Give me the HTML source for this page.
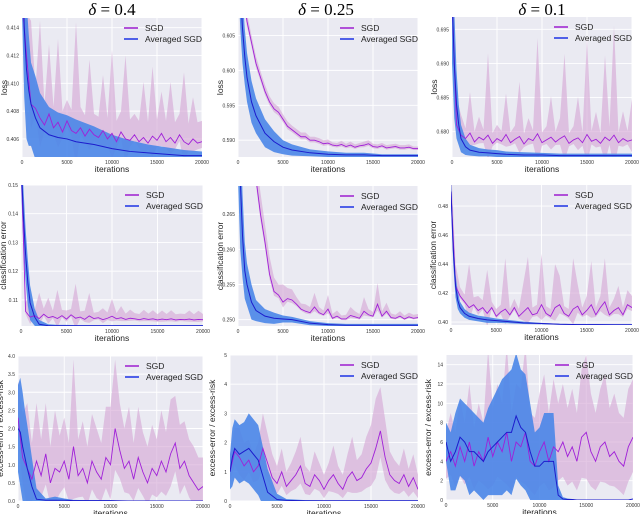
<!DOCTYPE html>
<html><head><meta charset="utf-8">
<style>
html,body{margin:0;padding:0;background:#fff;}
svg{display:block;font-family:"Liberation Sans",sans-serif;}
</style></head>
<body>
<svg id="fig" width="640" height="514" viewBox="0 0 640 514" xmlns="http://www.w3.org/2000/svg"></svg>
<script>
// ---- shared data ----
const iterations = [0,500,1000,1500,2000,2500,3000,3500,4000,4500,5000,5500,6000,6500,7000,7500,8000,8500,9000,9500,10000,10500,11000,11500,12000,12500,13000,13500,14000,14500,15000,15500,16000,16500,17000,17500,18000,18500,19000,19500,20000];
const avgIters = [0,250,500,750,1000,1500,2000,3000,4000,5000,6000,8000,10000,12000,14000,16000,18000,20000];
const xTicks = [0,5000,10000,15000,20000];
const titles = ["δ = 0.4","δ = 0.25","δ = 0.1"];

// Row 1: loss
const p1Sgd = [0.416,0.412,0.4085,0.4082,0.4075,0.407,0.4078,0.4068,0.4072,0.4065,0.4073,0.4066,0.4064,0.4068,0.4062,0.4067,0.4063,0.4061,0.4066,0.406,0.4064,0.4058,0.4065,0.406,0.4059,0.4063,0.4058,0.4061,0.4057,0.4062,0.4059,0.4064,0.4058,0.4061,0.4057,0.4063,0.4058,0.4056,0.406,0.4057,0.4058];
const p1Band = [0.004,0.003,0.006,0.0015,0.007,0.0015,0.005,0.0015,0.006,0.0015,0.0015,0.0015,0.008,0.0015,0.0015,0.005,0.0015,0.0015,0.004,0.0015,0.006,0.0015,0.0015,0.006,0.0015,0.0015,0.0015,0.004,0.0015,0.005,0.0015,0.003,0.0015,0.004,0.0015,0.0015,0.005,0.0015,0.003,0.0015,0.0015];
const p1Avg = [0.42,0.414,0.411,0.4095,0.4085,0.4075,0.4068,0.4063,0.4061,0.406,0.4058,0.4056,0.4053,0.4051,0.405,0.4049,0.4048,0.4048];
const p1AvgBand = [0.005,0.005,0.005,0.004,0.003,0.003,0.0025,0.002,0.0018,0.0017,0.0016,0.0013,0.001,0.0008,0.0006,0.0005,0.0004,0.0003];
const p1Ticks = [0.406,0.408,0.410,0.412,0.414];

const p2Sgd = [0.62,0.612,0.607,0.604,0.601,0.599,0.597,0.5955,0.5945,0.594,0.593,0.592,0.5915,0.591,0.5905,0.5905,0.590,0.590,0.5898,0.5895,0.5896,0.5893,0.5892,0.5894,0.5891,0.5893,0.589,0.5892,0.5893,0.5895,0.5891,0.589,0.5892,0.5889,0.589,0.5891,0.5889,0.5889,0.589,0.5888,0.5888];
const p2Band = [0.0015,0.0015,0.0012,0.001,0.001,0.0009,0.0009,0.0008,0.0008,0.0008,0.0007,0.0007,0.0006,0.0006,0.0006,0.0006,0.0005,0.0005,0.0005,0.0005,0.0005,0.0004,0.0004,0.0005,0.0004,0.0005,0.0004,0.0004,0.0005,0.0005,0.0004,0.0004,0.0004,0.0004,0.0004,0.0004,0.0004,0.0004,0.0004,0.0003,0.0003];
const p2Avg = [0.62,0.612,0.606,0.602,0.599,0.5955,0.5935,0.591,0.5898,0.589,0.5886,0.5882,0.588,0.5879,0.5879,0.5878,0.5878,0.5878];
const p2AvgBand = [0.006,0.006,0.005,0.004,0.0035,0.003,0.0025,0.002,0.0015,0.001,0.0008,0.0005,0.0004,0.0003,0.0003,0.0002,0.0002,0.0002];
const p2Ticks = [0.590,0.595,0.600,0.605];

const p3Sgd = [0.70,0.681,0.6795,0.679,0.6798,0.6785,0.6792,0.6788,0.6795,0.6783,0.679,0.6786,0.6796,0.6784,0.6789,0.6793,0.6782,0.679,0.6787,0.6797,0.6784,0.6788,0.6792,0.6785,0.679,0.6794,0.6783,0.6788,0.6791,0.6784,0.6796,0.6786,0.6789,0.6783,0.6792,0.6787,0.6795,0.6784,0.679,0.6786,0.6788];
const p3Band = [0.01,0.004,0.003,0.0015,0.006,0.0015,0.003,0.0015,0.012,0.0015,0.002,0.0015,0.006,0.0015,0.002,0.008,0.0015,0.003,0.0015,0.014,0.0015,0.002,0.006,0.0015,0.003,0.012,0.0015,0.002,0.006,0.0015,0.014,0.0015,0.004,0.0015,0.012,0.002,0.016,0.0015,0.004,0.0015,0.006];
const p3Avg = [0.70,0.69,0.684,0.681,0.679,0.6778,0.6773,0.677,0.6769,0.6768,0.6767,0.6766,0.6766,0.6765,0.6765,0.6765,0.6765,0.6765];
const p3AvgBand = [0.01,0.008,0.005,0.003,0.002,0.0012,0.0008,0.0006,0.0005,0.0005,0.0004,0.0004,0.0003,0.0003,0.0003,0.0003,0.0003,0.0003];
const p3Ticks = [0.680,0.685,0.690,0.695];

// Row 2: classification error
const p4Sgd = [0.16,0.106,0.104,0.1045,0.1035,0.105,0.1038,0.1042,0.1035,0.1045,0.1033,0.1048,0.1036,0.104,0.1032,0.1044,0.1035,0.1038,0.1031,0.1036,0.1043,0.1034,0.1038,0.1032,0.1036,0.1034,0.1031,0.1035,0.1032,0.1034,0.103,0.1033,0.1031,0.1034,0.103,0.1032,0.1031,0.1033,0.103,0.1032,0.1031];
const p4Band = [0.01,0.003,0.008,0.002,0.009,0.002,0.007,0.002,0.01,0.002,0.003,0.002,0.012,0.002,0.003,0.008,0.002,0.002,0.004,0.002,0.006,0.002,0.004,0.002,0.003,0.002,0.002,0.003,0.002,0.003,0.002,0.003,0.002,0.003,0.002,0.002,0.002,0.003,0.002,0.003,0.002];
const p4Avg = [0.16,0.14,0.126,0.116,0.109,0.104,0.1015,0.101,0.101,0.101,0.101,0.101,0.101,0.101,0.101,0.101,0.101,0.101];
const p4AvgBand = [0.01,0.01,0.009,0.008,0.006,0.003,0.0015,0.0005,0.0003,0.0003,0.0002,0.0002,0.0002,0.0002,0.0002,0.0002,0.0002,0.0002];
const p4Ticks = [0.11,0.12,0.13,0.14,0.15];

const p5Sgd = [0.28,0.278,0.275,0.272,0.27,0.265,0.261,0.2565,0.254,0.2535,0.2525,0.253,0.2528,0.2522,0.2515,0.2512,0.251,0.2518,0.251,0.2507,0.2515,0.2502,0.2505,0.2501,0.2501,0.2506,0.2504,0.2502,0.2512,0.2507,0.2505,0.2522,0.2505,0.2512,0.2503,0.2502,0.2505,0.2501,0.2504,0.2502,0.2503];
const p5Band = [0.003,0.003,0.003,0.003,0.003,0.003,0.0025,0.0025,0.002,0.0015,0.0025,0.0015,0.0015,0.001,0.0008,0.001,0.0008,0.002,0.0008,0.0006,0.002,0.0006,0.0008,0.0005,0.0006,0.0012,0.0008,0.0006,0.002,0.0008,0.0006,0.003,0.0007,0.0012,0.0006,0.0005,0.0007,0.0005,0.0006,0.0005,0.0005];
const p5Avg = [0.28,0.27,0.262,0.257,0.255,0.2525,0.2513,0.2505,0.2502,0.2501,0.25,0.2495,0.2493,0.2492,0.2492,0.2492,0.2492,0.2492];
const p5AvgBand = [0.01,0.01,0.006,0.004,0.003,0.0025,0.0015,0.001,0.0008,0.0005,0.0004,0.0003,0.0002,0.0002,0.0002,0.0002,0.0002,0.0002];
const p5Ticks = [0.250,0.255,0.260,0.265];

const p6Sgd = [0.49,0.425,0.418,0.414,0.41,0.412,0.408,0.41,0.406,0.41,0.404,0.407,0.409,0.405,0.41,0.404,0.407,0.41,0.405,0.406,0.412,0.406,0.404,0.41,0.412,0.406,0.404,0.409,0.411,0.405,0.408,0.412,0.405,0.41,0.414,0.405,0.408,0.41,0.405,0.412,0.41];
const p6Band = [0.02,0.015,0.006,0.005,0.03,0.005,0.01,0.005,0.03,0.004,0.005,0.005,0.035,0.004,0.006,0.005,0.02,0.035,0.005,0.006,0.035,0.005,0.005,0.03,0.02,0.005,0.005,0.035,0.015,0.005,0.01,0.03,0.005,0.008,0.03,0.005,0.008,0.015,0.005,0.01,0.008];
const p6Avg = [0.49,0.45,0.425,0.415,0.41,0.406,0.404,0.4025,0.4015,0.401,0.4005,0.3995,0.399,0.3985,0.3983,0.3983,0.3982,0.3982];
const p6AvgBand = [0.01,0.01,0.008,0.006,0.004,0.003,0.0025,0.002,0.002,0.0015,0.0012,0.0008,0.0005,0.0003,0.0003,0.0003,0.0003,0.0003];
const p6Ticks = [0.40,0.42,0.44,0.46,0.48];

// Row 3: excess-error / excess-risk
const p7Sgd = [2.3,1.2,0.9,0.6,1.1,0.7,1.3,0.5,0.9,0.8,1.1,0.6,1.5,0.7,0.9,0.5,1.1,0.8,0.6,1.2,1.0,2.0,1.4,0.9,1.1,0.6,1.2,0.8,0.5,0.9,0.7,1.1,0.8,1.3,1.6,0.9,1.1,0.7,0.5,0.3,0.4];
const p7Band = [1.0,1.2,1.8,1.0,1.6,1.0,1.4,1.0,1.6,1.0,1.2,1.0,2.4,1.0,1.3,1.0,1.3,1.2,1.0,1.4,1.6,1.9,1.3,1.1,1.5,1.0,1.4,1.1,1.0,1.2,1.0,1.4,1.1,1.5,1.3,1.2,1.1,1.0,1.0,0.9,0.8];
const p7Avg = [2.0,1.9,1.5,1.2,0.9,0.4,0.05,0.02,0.02,0.02,0.01,0.01,0.01,0,0,0,0,0];
const p7AvgBand = [1.2,1.5,1.5,1.3,1.2,0.8,0.3,0.05,0.1,0.05,0.02,0.01,0.01,0,0,0,0,0];
const p7Ticks = [0.0,0.5,1.0,1.5,2.0,2.5,3.0,3.5,4.0];

const p8Sgd = [1.0,1.7,1.5,1.2,1.4,1.0,1.2,1.8,1.3,0.8,0.6,1.0,0.5,0.7,0.9,1.2,0.6,0.5,0.9,0.7,0.4,0.7,0.9,0.6,0.4,0.8,1.0,0.7,0.8,1.1,1.3,1.8,2.4,1.5,0.9,0.7,0.6,0.9,0.5,0.8,0.4];
const p8Band = [0.6,0.8,1.0,0.8,0.7,0.6,0.8,1.2,1.0,0.8,0.6,0.8,0.5,0.6,0.8,1.0,0.6,0.5,0.8,0.6,0.5,0.6,1.0,0.6,0.5,0.8,1.2,0.7,0.8,1.1,1.3,1.7,1.5,1.3,0.8,0.7,0.6,0.9,0.6,0.8,0.5];
const p8Avg = [1.0,1.5,1.8,1.7,1.6,1.7,1.8,1.4,0.3,0.05,0.02,0.01,0.01,0.01,0.01,0.01,0.01,0.01];
const p8AvgBand = [0.6,1.0,1.0,1.0,1.0,1.0,1.2,1.2,0.8,0.2,0.05,0.02,0.01,0.01,0.01,0.01,0.01,0.01];
const p8Ticks = [0,1,2,3,4,5];

const p9Sgd = [4,5,3.5,5.5,4,6,3.5,5,4,6.5,4.5,6,5,7,4,6,5.5,7,4,3.5,5,6,4,5.5,5,6,4.5,5.5,4,6.5,7,5,4,5.5,6,4.5,5,4,3.5,5.5,6.5];
const p9Band = [3,4,3.5,5,4,6,4,5,4,9,5,6,5,9,5,6,6,9,5,5,6,7,5,7,5,6,5,6,5,7,8,6,5,6,7,5,6,5,5,6,6];
const p9Avg = [6,4,5,6.5,6,5,5,4.5,4,5,5.5,6,6.5,7,7,8.7,7.5,7,5,3.5,3.5,4,4,4,0.5,0.1,0.05,0.05,0,0,0,0,0,0,0,0,0,0,0,0,0.1];
const p9AvgBand = [2,3,4,4,4,4.5,4,4,4,4.5,5,5.5,6,6,6.5,6.5,6,6,5,3.5,4,5,5,5,1,0.2,0.1,0.05,0,0,0,0,0,0,0,0,0,0,0,0,0];
const p9Ticks = [0,2,4,6,8,10,12,14];

const NS = "http://www.w3.org/2000/svg";
const svg = document.getElementById("fig");
function mk(tag, attrs, parent){
  const e = document.createElementNS(NS, tag);
  for (const k in attrs) e.setAttribute(k, attrs[k]);
  (parent||svg).appendChild(e);
  return e;
}

const panels = [
 {l:22,t:18,r:202,b:157,y0:0.4047,y1:0.4147,ticks:p1Ticks,dec:3,yl:"loss",s:p1Sgd,sb:p1Band,a:p1Avg,ab:p1AvgBand,ax:avgIters,lo:0.3},
 {l:238,t:18,r:418,b:157,y0:0.5876,y1:0.6075,ticks:p2Ticks,dec:3,yl:"loss",s:p2Sgd,sb:p2Band,a:p2Avg,ab:p2AvgBand,ax:avgIters,lo:0.6},
 {l:452,t:17,r:632,b:157,y0:0.6763,y1:0.6968,ticks:p3Ticks,dec:3,yl:"loss",s:p3Sgd,sb:p3Band,a:p3Avg,ab:p3AvgBand,ax:avgIters,lo:0.3},
 {l:21,t:185,r:203,b:326,y0:0.1009,y1:0.15,ticks:p4Ticks,dec:2,yl:"classification error",s:p4Sgd,sb:p4Band,a:p4Avg,ab:p4AvgBand,ax:avgIters,lo:0.3},
 {l:238,t:186,r:418,b:326,y0:0.2491,y1:0.269,ticks:p5Ticks,dec:3,yl:"classification error",s:p5Sgd,sb:p5Band,a:p5Avg,ab:p5AvgBand,ax:avgIters,lo:0.3},
 {l:451,t:185,r:632,b:325,y0:0.398,y1:0.4945,ticks:p6Ticks,dec:2,yl:"classification error",s:p6Sgd,sb:p6Band,a:p6Avg,ab:p6AvgBand,ax:avgIters,lo:0.3},
 {l:18,t:356,r:203,b:501,y0:0,y1:4,ticks:p7Ticks,dec:1,yl:"excess-error / excess-risk",s:p7Sgd,sb:p7Band,a:p7Avg,ab:p7AvgBand,ax:avgIters,lo:0.6},
 {l:230,t:355,r:418,b:501,y0:0,y1:5,ticks:p8Ticks,dec:0,yl:"excess-error / excess-risk",s:p8Sgd,sb:p8Band,a:p8Avg,ab:p8AvgBand,ax:avgIters,lo:0.6},
 {l:446,t:355,r:633,b:500,y0:0,y1:15,ticks:p9Ticks,dec:0,yl:"excess-error / excess-risk",s:p9Sgd,sb:p9Band,a:p9Avg,ab:p9AvgBand,ax:iterations,lo:0.6}
];

// titles
[112,326,542].forEach((cx,i)=>{
  const t = mk("text",{x:cx,y:15,"text-anchor":"middle","font-size":"17","font-family":"Liberation Serif, serif"});
  
  
  t.innerHTML = '<tspan font-style="italic">δ</tspan> = ' + titles[i].split("= ")[1];
});

panels.forEach((p,idx)=>{
  const g = mk("g",{});
  
  
  const X = v => p.l + (v/20000)*(p.r-p.l);
  const Y = v => p.b - (v-p.y0)/(p.y1-p.y0)*(p.b-p.t);
  const bg = mk("rect",{x:p.l,y:p.t,width:p.r-p.l,height:p.b-p.t,fill:"#eaeaf2"},g);
  
  
  xTicks.forEach(v=>{
    const ln = mk("line",{x1:X(v),x2:X(v),y1:p.t,y2:p.b,stroke:"#fff","stroke-width":0.9},g);
    
    
    const tl = mk("text",{x:X(v),y:p.b+7,"text-anchor":"middle","font-size":"5",fill:"#333"},g);
    
    
    tl.textContent = v;
  });
  p.ticks.forEach(v=>{
    const ln = mk("line",{x1:p.l,x2:p.r,y1:Y(v),y2:Y(v),stroke:"#fff","stroke-width":0.9},g);
    
    
    const tl = mk("text",{x:p.l-3,y:Y(v)+2,"text-anchor":"end","font-size":"5",fill:"#333"},g);
    
    
    tl.textContent = v.toFixed(p.dec);
  });
  const cid = "clip"+idx;
  const cp = mk("clipPath",{id:cid},g);
  mk("rect",{x:p.l,y:p.t,width:p.r-p.l,height:p.b-p.t},cp);
  const pg = mk("g",{"clip-path":"url(#"+cid+")"},g);
  function band(xs, m, b, lof, fill, op, name){
    let up = xs.map((x,i)=>X(x)+","+Y(m[i]+b[i]));
    let dn = xs.map((x,i)=>X(x)+","+Y(m[i]-b[i]*lof)).reverse();
    const e = mk("polygon",{points:up.concat(dn).join(" "),fill:fill,"fill-opacity":op},pg);
    
    
  }
  function line(xs, m, col, w, name){
    const e = mk("polyline",{points:xs.map((x,i)=>X(x)+","+Y(m[i])).join(" "),fill:"none",stroke:col,"stroke-width":w},pg);
    
    
  }
  band(iterations, p.s, p.sb, p.lo, "#d4a4d4", 0.6, "sgd-band");
  band(p.ax, p.a, p.ab, 1, "#4a86e8", 0.9, "averaged-sgd-band");
  line(iterations, p.s, "#a020d8", 0.9, "sgd-line");
  line(p.ax, p.a, "#1c1ccc", 1, "averaged-sgd-line");
  const xl = mk("text",{x:(p.l+p.r)/2,y:p.b+15,"text-anchor":"middle","font-size":"8.5",fill:"#222"},g);
  
  
  xl.textContent = "iterations";
  const yx = p.l - 15;
  const yc = (p.t+p.b)/2;
  const yl = mk("text",{x:yx,y:yc,"text-anchor":"middle","font-size":"8.5",fill:"#222",transform:"rotate(-90 "+yx+" "+yc+")"},g);
  
  
  yl.textContent = p.yl;
  const lx = p.r - 78, ly = p.t + 10;
  const lg = mk("g",{},g);
  
  
  mk("line",{x1:lx,x2:lx+14,y1:ly,y2:ly,stroke:"#b050d8","stroke-width":2},lg);
  const t1 = mk("text",{x:lx+21,y:ly+3,"font-size":"8.5",fill:"#222"},lg);
  
  
  t1.textContent = "SGD";
  mk("line",{x1:lx,x2:lx+14,y1:ly+11,y2:ly+11,stroke:"#5060e8","stroke-width":2},lg);
  const t2 = mk("text",{x:lx+21,y:ly+14,"font-size":"8.5",fill:"#222"},lg);
  
  
  t2.textContent = "Averaged SGD";
});
</script>
</body></html>
